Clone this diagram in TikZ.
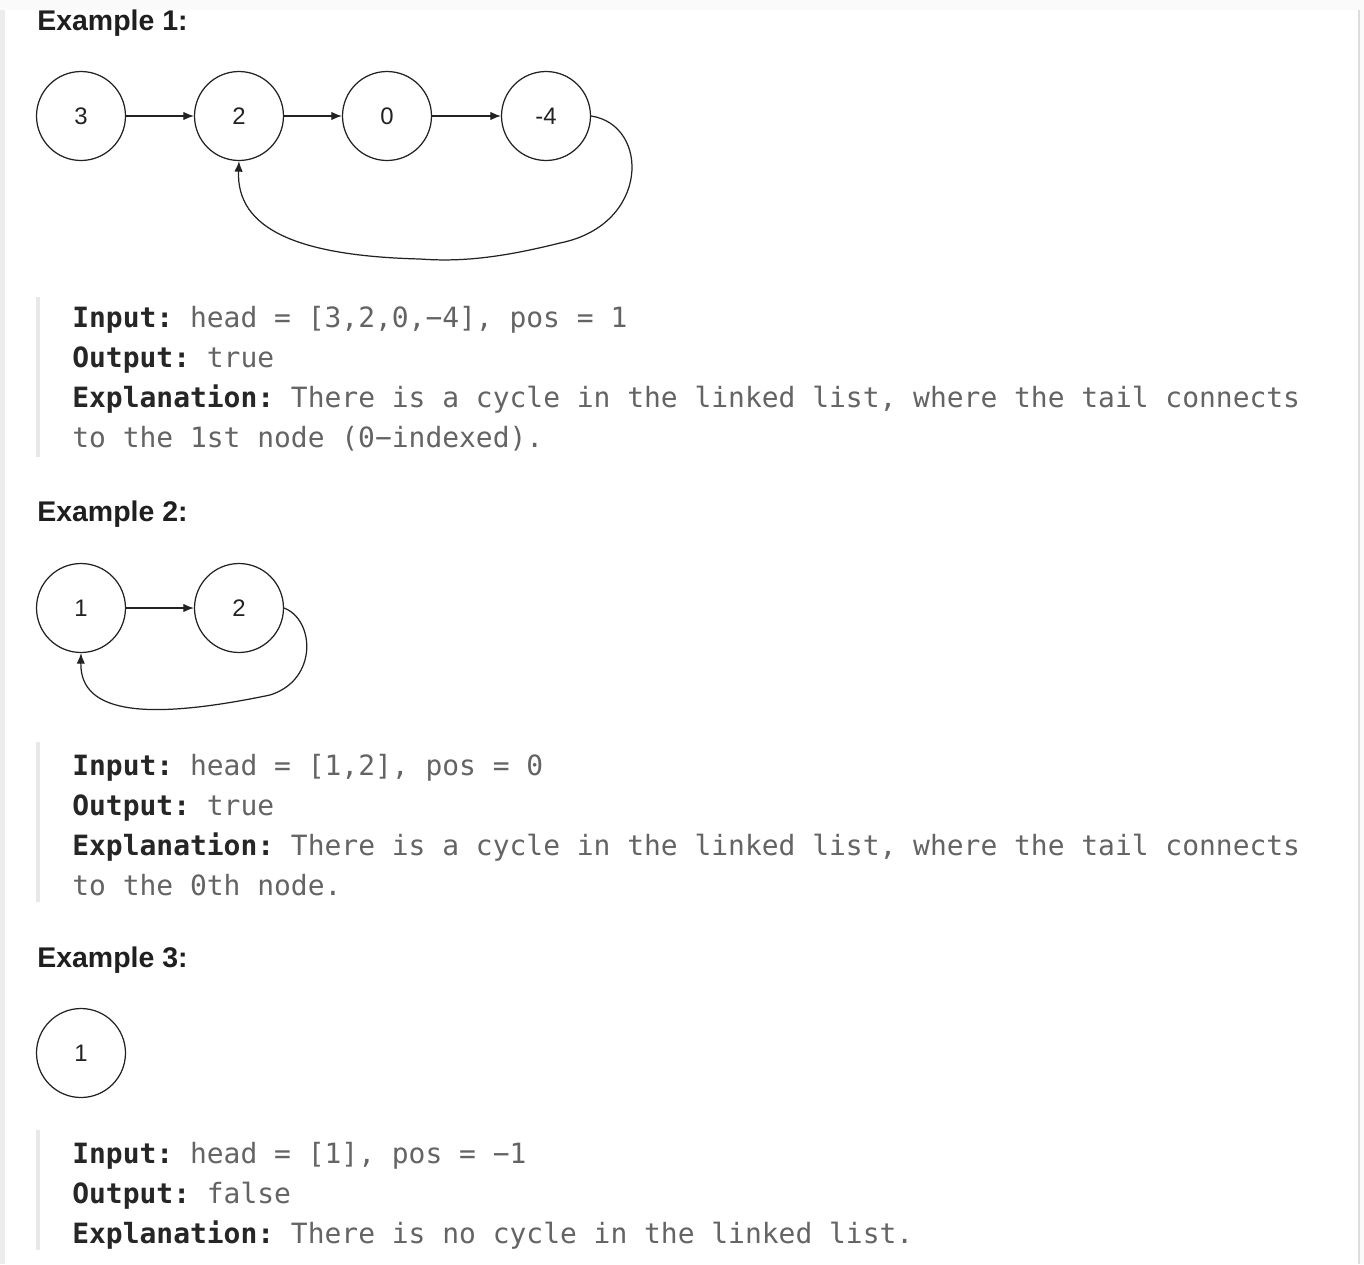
\documentclass[tikz,border=0pt]{standalone}
\usepackage{fontspec}
\setmainfont{Liberation Sans}
\newfontfamily\codefont{DejaVu Sans Mono}
\usetikzlibrary{arrows.meta}

\definecolor{pagegray}{HTML}{FAFAFA}
\definecolor{edgegray}{HTML}{ECECEC}
\definecolor{rulegray}{HTML}{DDDDDD}
\definecolor{bargray}{HTML}{E8E8E8}
\definecolor{nodeline}{HTML}{222222}
\definecolor{headtext}{HTML}{1F1F1F}
\definecolor{codeblack}{HTML}{262626}
\definecolor{codegray}{HTML}{646464}

\tikzset{
  listnode/.style={circle, draw=nodeline, line width=0.7pt, minimum size=1.78cm,
    inner sep=0pt, text=nodeline, font=\fontsize{13.6}{15}\selectfont},
  nextptr/.style={-{Latex[length=6pt,width=4.8pt]}, line width=0.7pt, draw=nodeline},
  heading/.style={anchor=base west, inner sep=0pt, text=headtext,
    font=\fontsize{16.2}{18}\selectfont\bfseries},
  codeline/.style={anchor=base west, inner sep=0pt, text=codegray,
    font=\fontsize{15.9}{20}\selectfont\codefont},
  quotebar/.style={fill=bargray, draw=none}
}
\newcommand{\kw}[1]{\textcolor{codeblack}{\bfseries #1}}
\frenchspacing

\begin{document}
\begin{tikzpicture}[x=0.02cm, y=-0.02cm]

    % Page frame (pixel grid, y grows downwards)
    \useasboundingbox (0,0) rectangle (1364,1264);
    \fill[pagegray] (0,0) rectangle (1364,1264);
    \fill[white] (5,10) rectangle (1358,1264);
    \fill[edgegray] (0,10) rectangle (5,1264);
    \fill[rulegray] (1358,10) rectangle (1360,1264);

    % Example 1
    \def\rowA{116}
    \node[heading] (headA) at (37,31) {Example 1:};
    \node[listnode] (a1) at (81,\rowA) {3};
    \node[listnode] (a2) at (239,\rowA) {2};
    \node[listnode] (a3) at (387,\rowA) {0};
    \node[listnode] (a4) at (546,\rowA) {-4};
    \draw[nextptr] (a1) -- (a2);
    \draw[nextptr] (a2) -- (a3);
    \draw[nextptr] (a3) -- (a4);
    \draw[nextptr] (a4.east) .. controls (650,125) and (650,225) .. (560,243)
        .. controls (500,258) and (460,262) .. (420,259)
        .. controls (300,256) and (236,230) .. (a2.south);

    \fill[quotebar] (36,297) rectangle (40,457);
    \node[codeline] (inA) at (72,327) {\kw{Input:} head = [3,2,0,−4], pos = 1};
    \node[codeline] (outA) at (72,367) {\kw{Output:} true};
    \node[codeline] (expA) at (72,407) {\kw{Explanation:} There is a cycle in the linked list, where the tail connects};
    \node[codeline] (expA2) at (72,447) {to the 1st node (0−indexed).};

    % Example 2
    \def\rowB{608}
    \node[heading] (headB) at (37,521) {Example 2:};
    \node[listnode] (b1) at (81,\rowB) {1};
    \node[listnode] (b2) at (239,\rowB) {2};
    \draw[nextptr] (b1) -- (b2);
    \draw[nextptr] (b2.east) .. controls (315,620) and (318,680) .. (270,695)
        .. controls (150,720) and (80,715) .. (b1.south);

    \fill[quotebar] (36,742) rectangle (40,902);
    \node[codeline] (inB) at (72,775) {\kw{Input:} head = [1,2], pos = 0};
    \node[codeline] (outB) at (72,815) {\kw{Output:} true};
    \node[codeline] (expB) at (72,855) {\kw{Explanation:} There is a cycle in the linked list, where the tail connects};
    \node[codeline] (expB2) at (72,895) {to the 0th node.};

    % Example 3
    \node[heading] (headC) at (37,967) {Example 3:};
    \node[listnode] (c1) at (81,1053) {1};

    \fill[quotebar] (36,1130) rectangle (40,1250);
    \node[codeline] (inC) at (72,1163) {\kw{Input:} head = [1], pos = −1};
    \node[codeline] (outC) at (72,1203) {\kw{Output:} false};
    \node[codeline] (expC) at (72,1243) {\kw{Explanation:} There is no cycle in the linked list.};

\end{tikzpicture}
\end{document}
